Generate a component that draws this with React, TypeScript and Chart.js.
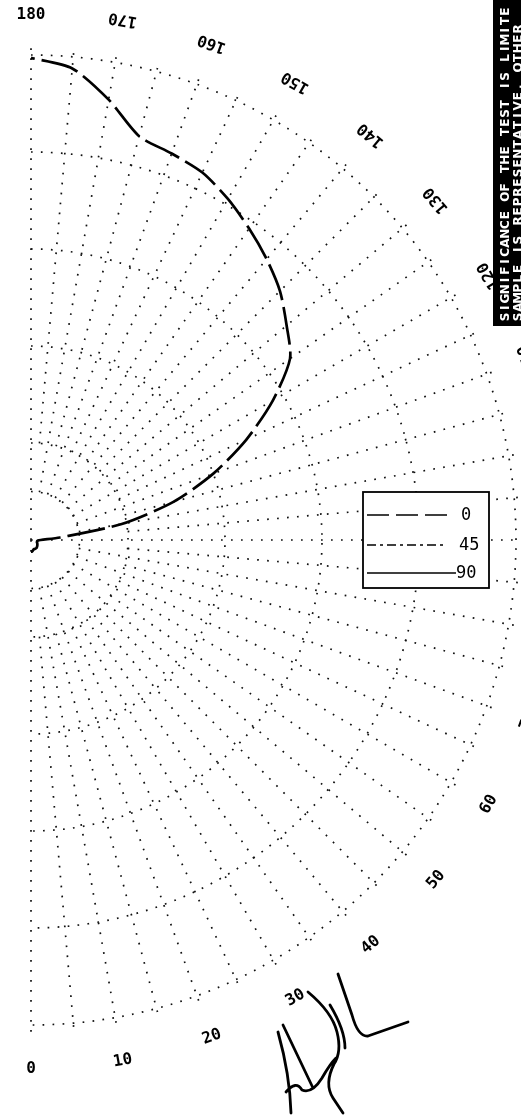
import React, { useEffect, useRef } from "react";
import { Chart, registerables } from "chart.js";

Chart.register(...registerables);

// Polar angles (degrees, 0 = down, 180 = up) and measured radius for the "0" curve
const ANGLES = [0, 5, 10, 15, 20, 25, 30, 35, 40, 45, 50, 55, 60, 65, 70, 75, 80, 85, 90, 95, 100, 105, 110, 115, 120, 125, 130, 135, 140, 145, 150, 155, 160, 165, 170, 175, 180];
const SERIES_0 = [0.12, 0.12, 0.11, 0.1, 0.1, 0.1, 0.1, 0.1, 0.095, 0.09, 0.085, 0.08, 0.075, 0.07, 0.065, 0.065, 0.065, 0.07, 0.1, 0.3, 0.95, 1.52, 2.0, 2.45, 2.88, 3.26, 3.44, 3.63, 3.78, 3.92, 4.06, 4.18, 4.24, 4.31, 4.61, 4.88, 4.97];

const RING_VALUES = [0.5, 1, 2, 3, 4, 5];
const SPOKE_ANGLES = [0, 5, 10, 15, 20, 25, 30, 35, 40, 45, 50, 55, 60, 65, 70, 75, 80, 85, 90, 95, 100, 105, 110, 115, 120, 125, 130, 135, 140, 145, 150, 155, 160, 165, 170, 175, 180];
const ANGLE_LABELS = [0, 10, 20, 30, 40, 50, 60, 70, 80, 90, 100, 110, 120, 130, 140, 150, 160, 170, 180];
const LEGEND_LABELS = ["0", "45", "90"];
const NOTE_LINES = ["SIGNIFICANCE OF THE TEST IS LIMITE", "SAMPLE IS REPRESENTATIVE. OTHER"];

const SPOKE_END = 5.12;
const LABEL_R = 5.45;

const polarPlugin = {
  id: "polarGrid",
  beforeDatasetsDraw(chart: any) {
    const { ctx, scales } = chart;
    const xs = scales.x;
    const ys = scales.y;
    const cx = xs.getPixelForValue(0);
    const cy = ys.getPixelForValue(0);
    const unit = xs.getPixelForValue(1) - cx;
    ctx.save();
    ctx.fillStyle = "#ffffff";
    ctx.fillRect(0, 0, chart.width, chart.height);
    ctx.strokeStyle = "#111";
    ctx.lineWidth = 1.7;
    ctx.setLineDash([1.7, 8.3]);
    RING_VALUES.forEach((r) => {
      ctx.beginPath();
      ctx.arc(cx, cy, r * unit, -Math.PI / 2, Math.PI / 2);
      ctx.stroke();
    });
    SPOKE_ANGLES.forEach((a) => {
      const t = (a * Math.PI) / 180;
      const r0 = a % 90 === 0 ? 0 : a % 10 === 0 ? 0.5 : 1;
      ctx.beginPath();
      ctx.moveTo(cx + r0 * unit * Math.sin(t), cy + r0 * unit * Math.cos(t));
      ctx.lineTo(cx + SPOKE_END * unit * Math.sin(t), cy + SPOKE_END * unit * Math.cos(t));
      ctx.stroke();
    });
    ctx.setLineDash([]);
    ctx.fillStyle = "#000";
    ctx.font = 'bold 16px "DejaVu Sans Mono"';
    ctx.textAlign = "center";
    ctx.textBaseline = "middle";
    ANGLE_LABELS.forEach((a) => {
      const t = (a * Math.PI) / 180;
      const px = cx + LABEL_R * unit * Math.sin(t);
      const py = cy + LABEL_R * unit * Math.cos(t);
      ctx.save();
      ctx.translate(px, a === 180 ? py + 3 : py);
      ctx.rotate(a === 180 ? 0 : -t);
      ctx.fillText(String(a), 0, 0);
      ctx.restore();
    });
    ctx.restore();
  },
  afterDatasetsDraw(chart: any) {
    const { ctx } = chart;
    ctx.save();
    ctx.fillStyle = "#fff";
    ctx.fillRect(363, 492, 126, 96);
    ctx.strokeStyle = "#000";
    ctx.lineWidth = 1.8;
    ctx.strokeRect(363, 492, 126, 96);
    const rows = [515, 545, 573];
    const dashes = [[22, 7], [9, 4, 3, 4], []];
    const ends = [447, 445, 456];
    ctx.lineWidth = 1.6;
    LEGEND_LABELS.forEach((lab, i) => {
      ctx.setLineDash(dashes[i]);
      ctx.beginPath();
      ctx.moveTo(367, rows[i]);
      ctx.lineTo(ends[i], rows[i]);
      ctx.stroke();
    });
    ctx.setLineDash([]);
    ctx.fillStyle = "#000";
    ctx.font = '17px "DejaVu Sans Mono"';
    ctx.textAlign = "left";
    ctx.textBaseline = "middle";
    LEGEND_LABELS.forEach((lab, i) => {
      ctx.fillText(lab, i === 0 ? 461 : i === 1 ? 459 : 456, rows[i] + 1);
    });
    ctx.fillStyle = "#000";
    ctx.fillRect(493, 0, 28, 326);
    ctx.fillStyle = "#fff";
    ctx.font = 'bold 12px "DejaVu Sans"';
    ctx.textAlign = "center";
    ctx.textBaseline = "middle";
    const lineX = [506, 519];
    const adv = [9.25, 9.6];
    NOTE_LINES.forEach((line, li) => {
      ctx.save();
      ctx.translate(lineX[li], 317);
      ctx.rotate(-Math.PI / 2);
      for (let k = 0; k < line.length; k++) {
        ctx.fillText(line[k], k * adv[li], 0);
      }
      ctx.restore();
    });
    ctx.strokeStyle = "#000";
    ctx.lineWidth = 2.8;
    ctx.lineCap = "round";
    ctx.lineJoin = "round";
    ctx.beginPath();
    ctx.moveTo(338, 974);
    ctx.lineTo(352, 1015);
    ctx.quadraticCurveTo(358, 1037, 368, 1036);
    ctx.lineTo(408, 1022);
    ctx.moveTo(308, 992);
    ctx.quadraticCurveTo(332, 1012, 337, 1032);
    ctx.quadraticCurveTo(342, 1052, 334, 1064);
    ctx.quadraticCurveTo(324, 1084, 333, 1098);
    ctx.lineTo(343, 1113);
    ctx.moveTo(283, 1025);
    ctx.lineTo(313, 1088);
    ctx.moveTo(278, 1032);
    ctx.quadraticCurveTo(290, 1075, 291, 1113);
    ctx.moveTo(286, 1092);
    ctx.quadraticCurveTo(296, 1080, 302, 1090);
    ctx.quadraticCurveTo(312, 1094, 322, 1078);
    ctx.quadraticCurveTo(330, 1064, 336, 1058);
    ctx.moveTo(330, 1005);
    ctx.quadraticCurveTo(345, 1030, 345, 1048);
    ctx.stroke();
    ctx.restore();
  },
};

export default function App() {
  const canvasRef = useRef<HTMLCanvasElement | null>(null);
  useEffect(() => {
    document.body.style.margin = "0";
    const canvas = canvasRef.current;
    if (!canvas) return;
    const points = ANGLES.map((a, i) => {
      const t = (a * Math.PI) / 180;
      return { x: SERIES_0[i] * Math.sin(t), y: -SERIES_0[i] * Math.cos(t) };
    });
    const chart = new Chart(canvas, {
      type: "scatter",
      data: {
        datasets: [
          {
            label: "0",
            data: points,
            showLine: true,
            borderColor: "#000",
            borderWidth: 2.7,
            borderDash: [38, 7],
            pointRadius: 0,
            tension: 0.25,
            fill: false,
          },
        ],
      },
      options: {
        animation: false,
        responsive: false,
        maintainAspectRatio: false,
        layout: { padding: 0 },
        plugins: { legend: { display: false }, tooltip: { enabled: false } },
        events: [],
        scales: {
          x: { type: "linear", display: false, min: -31 / 97, max: 490 / 97 },
          y: { type: "linear", display: false, min: -579 / 97, max: 540 / 97 },
        },
      },
      plugins: [polarPlugin],
    });
    return () => chart.destroy();
  }, []);
  return (
    <div style={{ position: "fixed", left: 0, top: 0, width: 521, height: 1119, background: "#fff" }}>
      <canvas ref={canvasRef} width={521} height={1119} style={{ width: 521, height: 1119, display: "block" }} />
    </div>
  );
}
